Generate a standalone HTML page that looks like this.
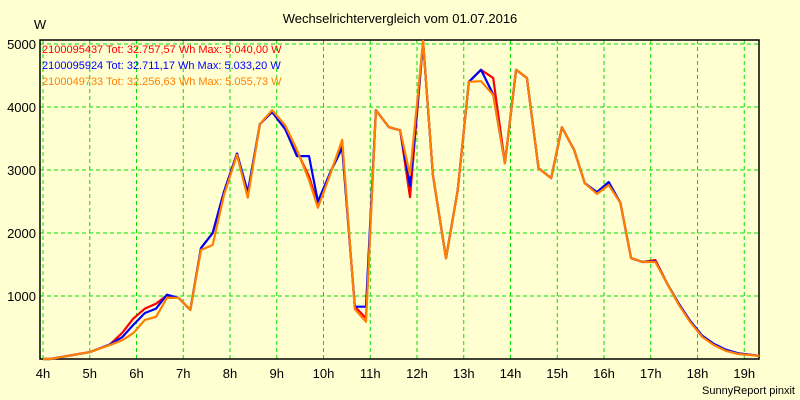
<!DOCTYPE html>
<html><head><meta charset="utf-8"><style>
body{margin:0;background:#ffffd2;}
svg{display:block;font-family:"Liberation Sans",sans-serif;}
</style></head><body>
<svg id="chart" width="800" height="400" viewBox="0 0 800 400">
<rect x="0" y="0" width="800" height="400" fill="#ffffd2"/>
<text x="400" y="23" font-size="13" text-anchor="middle">Wechselrichtervergleich vom 01.07.2016</text>
<text x="40" y="29" font-size="13" text-anchor="middle">W</text>
<g id="grid"></g>
<g id="axes"></g>
<g id="series"></g>
<g id="legend"></g>
<text x="795" y="394" font-size="11" text-anchor="end">SunnyReport pinxit</text>
</svg>
<script>
const hours = [4,4.15,5,5.43,5.7,5.93,6.18,6.42,6.65,6.9,7.15,7.38,7.63,7.87,8.15,8.38,8.64,8.9,9.18,9.43,9.69,9.88,10.14,10.4,10.67,10.91,11.12,11.4,11.64,11.85,12.13,12.34,12.62,12.87,13.11,13.37,13.63,13.88,14.12,14.35,14.6,14.87,15.1,15.36,15.59,15.85,16.1,16.35,16.58,16.83,17.1,17.35,17.6,17.84,18.1,18.35,18.6,18.87,19.32];
const seriesRed = [0,0,110,230,420,640,800,880,1010,970,780,1760,2000,2650,3260,2600,3730,3920,3650,3300,2900,2450,2950,3400,830,650,3950,3680,3630,2570,5040,2920,1600,2680,4400,4590,4460,3110,4590,4460,3030,2870,3680,3320,2790,2640,2780,2480,1600,1540,1570,1200,870,600,360,230,140,90,50];
const seriesBlue = [0,0,110,230,350,540,730,800,1020,970,780,1760,2000,2650,3260,2650,3730,3920,3650,3220,3220,2500,2950,3350,830,830,3950,3680,3630,2750,5030,2920,1600,2680,4400,4590,4200,3110,4590,4460,3030,2870,3680,3320,2790,2650,2810,2480,1600,1540,1550,1200,880,610,370,240,150,90,50];
const seriesOrange = [0,0,110,220,300,410,620,670,970,970,780,1730,1810,2600,3240,2560,3730,3950,3710,3320,2840,2400,2920,3480,790,590,3950,3680,3630,2920,5050,2920,1600,2680,4400,4410,4190,3110,4590,4460,3030,2870,3680,3320,2790,2620,2760,2480,1600,1540,1540,1200,860,590,350,220,130,80,50];
const xTickLabels = ["4h","5h","6h","7h","8h","9h","10h","11h","12h","13h","14h","15h","16h","17h","18h","19h"];
const yTickValues = [1000,2000,3000,4000,5000];
const legendLabels = ["2100095437 Tot: 32.757,57 Wh Max: 5.040,00 W","2100095924 Tot: 32.711,17 Wh Max: 5.033,20 W","2100049733 Tot: 32.256,63 Wh Max: 5.055,73 W"];

const NS="http://www.w3.org/2000/svg";
const X0=40,X1=759,Y0=40,Y1=359;
function xScale(h){return 43+(h-4)*46.75;}
function yScale(v){return 359-v*0.063;}
function mk(tag,attrs,parent){const e=document.createElementNS(NS,tag);for(const k in attrs)e.setAttribute(k,attrs[k]);parent.appendChild(e);return e;}
const grid=document.getElementById('grid'),axes=document.getElementById('axes'),ser=document.getElementById('series'),leg=document.getElementById('legend');

xTickLabels.forEach((lab,i)=>{
  const x=xScale(4+i);
  const l=mk('line',{x1:x,y1:Y0,x2:x,y2:Y1,stroke:'#00e000','stroke-dasharray':'4,3','stroke-width':1},grid);
  
  
  const t=mk('text',{x:x,y:378,'font-size':13,'text-anchor':'middle'},axes);
  t.textContent=lab;
  
  
});
yTickValues.forEach(v=>{
  const y=yScale(v);
  const l=mk('line',{x1:X0,y1:y,x2:X1,y2:y,stroke:'#00e000','stroke-dasharray':'4,3','stroke-width':1},grid);
  
  
  const t=mk('text',{x:36,y:y+5,'font-size':13,'text-anchor':'end'},axes);
  t.textContent=String(v);
  
  
});
const frame=mk('rect',{x:X0,y:Y0,width:X1-X0,height:Y1-Y0,fill:'none',stroke:'#000','stroke-width':1.5},axes);



const defs=[[seriesRed,'#ff0000'],[seriesBlue,'#0000ff'],[seriesOrange,'#ff8000']];
defs.forEach(([vals,col],i)=>{
  const pts=hours.map((h,j)=>xScale(h).toFixed(1)+','+yScale(vals[j]).toFixed(1)).join(' ');
  const p=mk('polyline',{points:pts,fill:'none',stroke:col,'stroke-width':2.2,'stroke-linejoin':'round'},ser);
  
  
  const t=mk('text',{x:42,y:53+i*16,'font-size':11,fill:col},leg);
  t.textContent=legendLabels[i];
  
  
});
</script>
</body></html>
